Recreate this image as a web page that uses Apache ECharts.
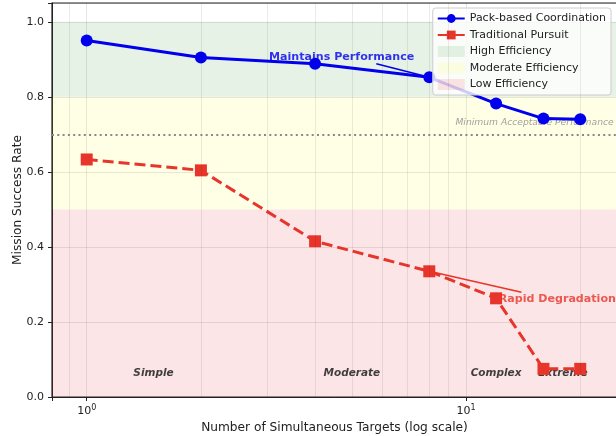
<!DOCTYPE html>
<html>
<head>
<meta charset="utf-8">
<script src="https://cdn.jsdelivr.net/npm/echarts@6/dist/echarts.min.js"></script>
<style>
  html, body { margin: 0; padding: 0; background: #fff; }
  #chart { width: 616px; height: 436px; }
</style>
</head>
<body>
<div id="chart"></div>
<script>
// targets on the log x axis
const targets = [1, 2, 4, 8, 12, 16, 20]
const packRate = [0.95, 0.905, 0.888, 0.852, 0.782, 0.742, 0.74]
const tradRate = [0.633, 0.604, 0.415, 0.335, 0.263, 0.075, 0.075]

// efficiency bands [from, to]
const bandNames = ['High Efficiency', 'Moderate Efficiency', 'Low Efficiency']
const bandRanges = [[0.8, 1.0], [0.5, 0.8], [0, 0.5]]
const bandColors = ['rgba(0,128,0,0.1)', 'rgba(255,255,0,0.1)', 'rgba(230,40,50,0.12)']

const minorX = [0.9, 2, 3, 4, 5, 6, 7, 8, 9, 20]
const threshold = 0.7

// complexity labels along the bottom
const zoneNames = ['Simple', 'Moderate', 'Complex', 'Extreme']
const zoneX = [1.5, 5, 12, 18]
const zoneY = 0.062

const chart = echarts.init(document.getElementById('chart'))
const font = 'DejaVu Sans'

const isPow10 = v => Math.abs(Math.log10(v) - Math.round(Math.log10(v))) < 1e-6

const bandSeries = bandNames.map((name, i) => ({
  name: name,
  type: 'line',
  data: [],
  silent: true,
  itemStyle: { color: bandColors[i] },
  markArea: {
    silent: true,
    itemStyle: { color: bandColors[i] },
    data: [[{ yAxis: bandRanges[i][0] }, { yAxis: bandRanges[i][1] }]]
  }
}))

chart.setOption({
  animation: false,
  textStyle: { fontFamily: font },
  grid: {
    left: 52, top: 3, width: 565, bottom: 39,
    outerBoundsMode: 'none',
    show: true, borderColor: '#222', borderWidth: 1.2, backgroundColor: 'transparent'
  },
  // y axis title, drawn as rotated text
  graphic: [{
    type: 'text',
    x: 18,
    y: 200,
    rotation: Math.PI / 2,
    silent: true,
    style: {
      text: 'Mission Success Rate',
      fontFamily: font,
      fontSize: 12.2,
      fill: '#222',
      align: 'center',
      verticalAlign: 'middle'
    }
  }],
  legend: {
    orient: 'vertical',
    right: 5,
    top: 8,
    itemWidth: 27,
    itemHeight: 11,
    itemGap: 5.5,
    padding: [5, 5, 5, 4],
    backgroundColor: 'rgba(255,255,255,0.8)',
    borderColor: '#ccc',
    borderWidth: 1,
    borderRadius: 3,
    textStyle: { fontFamily: font, fontSize: 11, color: '#222' },
    data: [
      'Pack-based Coordination',
      'Traditional Pursuit',
      { name: bandNames[0], icon: 'rect' },
      { name: bandNames[1], icon: 'rect' },
      { name: bandNames[2], icon: 'rect' }
    ]
  },
  xAxis: {
    type: 'log',
    logBase: 10,
    min: 0.81,
    max: 25,
    name: 'Number of Simultaneous Targets (log scale)',
    nameLocation: 'middle',
    nameGap: 21,
    nameTextStyle: { fontFamily: font, fontSize: 12.2, color: '#222' },
    axisLine: { lineStyle: { color: '#222' } },
    axisTick: { length: 4, lineStyle: { color: '#222' } },
    axisLabel: {
      margin: 7,
      color: '#222',
      formatter: v => isPow10(v) ? '{b|10}{s|' + Math.round(Math.log10(v)) + '}' : '',
      rich: {
        b: { fontFamily: font, fontSize: 11, color: '#222', lineHeight: 14 },
        s: { fontFamily: font, fontSize: 8, color: '#222', verticalAlign: 'top', lineHeight: 14, padding: [0, 0, 5, 0] }
      }
    },
    splitLine: { show: true, lineStyle: { color: 'rgba(0,0,0,0.1)', width: 1 } }
  },
  yAxis: {
    type: 'value',
    min: 0,
    max: 1.05,
    interval: 0.2,
    axisLine: { show: true, lineStyle: { color: '#222' } },
    axisTick: { show: true, length: 4, lineStyle: { color: '#222' } },
    axisLabel: {
      margin: 8,
      fontSize: 11,
      color: '#222',
      formatter: v => (Math.abs(v * 5 - Math.round(v * 5)) < 1e-6 ? v.toFixed(1) : '')
    },
    splitLine: { show: true, lineStyle: { color: 'rgba(0,0,0,0.1)', width: 1 } }
  },
  series: [
    ...bandSeries,
    {
      name: 'guides',
      type: 'line',
      data: [],
      silent: true,
      markLine: {
        silent: true,
        symbol: ['none', 'none'],
        label: { show: false },
        data: [
          ...minorX.map(x => ({ xAxis: x, lineStyle: { color: 'rgba(0,0,0,0.08)', width: 1, type: 'solid' } })),
          { yAxis: threshold, lineStyle: { color: '#888', width: 2, type: [2, 3.3] } },
          [{ coord: [5.8, 0.888] }, { coord: [targets[3], packRate[3]], lineStyle: { color: '#0000ee', width: 1.5, type: 'solid' } }],
          [{ coord: [14, 0.279] }, { coord: [targets[3], tradRate[3]], lineStyle: { color: '#e8352b', width: 1.5, type: 'solid' } }]
        ]
      }
    },
    {
      name: 'notes',
      type: 'scatter',
      symbolSize: 0,
      silent: true,
      label: {
        show: true,
        position: 'inside',
        formatter: p => p.name
      },
      data: [
        ...zoneNames.map((n, i) => ({
          name: n,
          value: [zoneX[i], zoneY],
          label: { fontFamily: font, fontSize: 10.5, fontWeight: 'bold', fontStyle: 'italic', color: '#111' }
        })),
        {
          name: 'Minimum Acceptable Performance',
          value: [24.5, 0.732],
          label: { align: 'right', fontFamily: font, fontSize: 9.2, fontStyle: 'italic', color: '#888' }
        },
        {
          name: 'Maintains Performance',
          value: [4.7, 0.907],
          label: { fontFamily: font, fontSize: 11.1, fontWeight: 'bold', color: '#0000ee' }
        },
        {
          name: 'Rapid Degradation',
          value: [17.4, 0.261],
          label: { fontFamily: font, fontSize: 11.1, fontWeight: 'bold', color: '#e8352b' }
        }
      ]
    },
    {
      name: 'Pack-based Coordination',
      type: 'line',
      data: targets.map((x, i) => [x, packRate[i]]),
      symbol: 'circle',
      symbolSize: 12,
      itemStyle: { color: '#0000ee' },
      lineStyle: { color: '#0000ee', width: 3 }
    },
    {
      name: 'Traditional Pursuit',
      type: 'line',
      data: targets.map((x, i) => [x, tradRate[i]]),
      symbol: 'rect',
      symbolSize: 12,
      itemStyle: { color: '#e8352b' },
      lineStyle: { color: '#e8352b', width: 3, type: [11, 5] }
    }
  ]
})
</script>
</body>
</html>
